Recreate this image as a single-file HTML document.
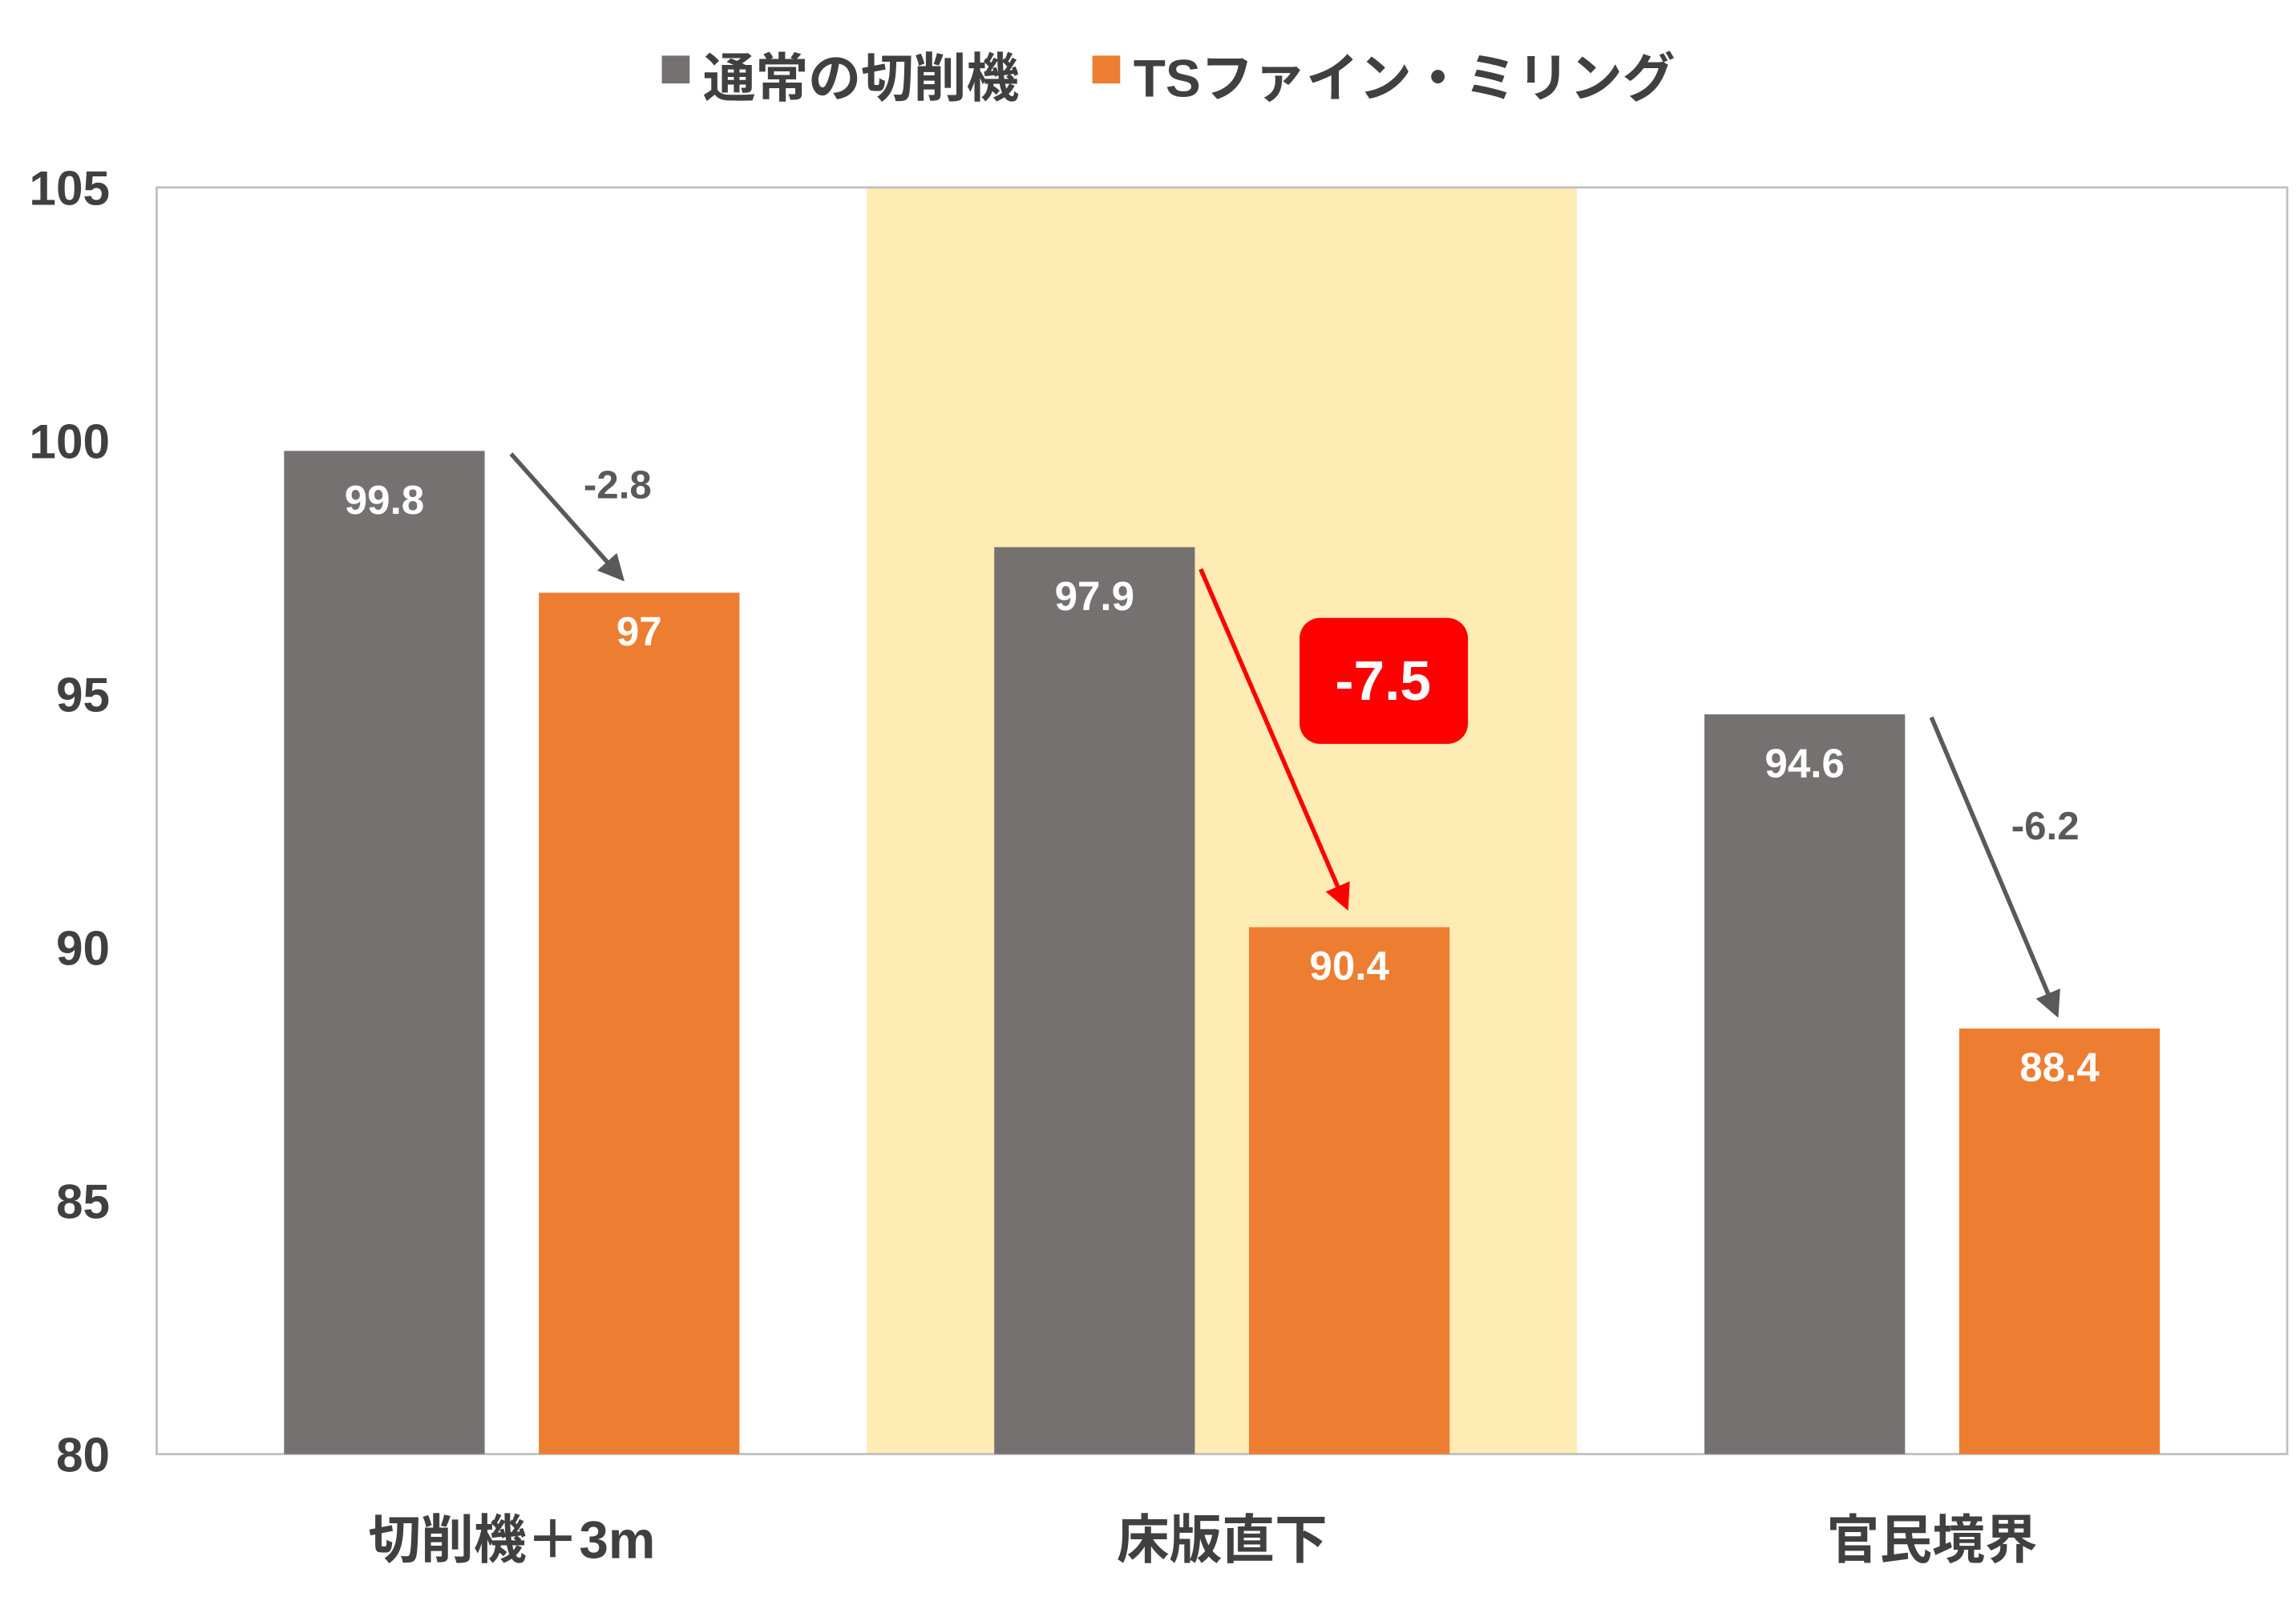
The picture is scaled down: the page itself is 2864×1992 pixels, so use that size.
<!DOCTYPE html>
<html><head><meta charset="utf-8"><style>
html,body{margin:0;padding:0;background:#fff;}
svg{display:block;}
text{font-family:"Liberation Sans","Noto Sans CJK JP",sans-serif;font-weight:bold;}
</style></head><body>
<svg id="chart" width="2864" height="1992" viewBox="0 0 1568 1090.6" preserveAspectRatio="none" xmlns="http://www.w3.org/2000/svg">
<g id="legend">
  <rect x="452" y="38" width="19" height="19" fill="#767171"/>
  <text x="480" y="66" font-size="36" fill="#404040">通常の切削機</text>
  <rect x="746" y="38" width="19" height="19" fill="#ED7D31"/>
  <text x="774" y="66" font-size="36" fill="#404040">TSファイン・ミリング</text>
</g>
<rect x="592" y="128" width="485" height="865" fill="#FFEBB4"/>
<rect x="107" y="128" width="1455" height="865" fill="none" stroke="#BFBFBF" stroke-width="1.5"/>
<g id="ticks"></g>
<g id="bars"></g>
<g id="arrows"></g>
</svg>
<script>
const categories = ["切削機＋3m", "床版直下", "官民境界"];
const normalValues = [99.8, 97.9, 94.6];
const tsValues = [97.0, 90.4, 88.4];
const diffLabels = ["-2.8", "-7.5", "-6.2"];
const tickValues = [80, 85, 90, 95, 100, 105];

const NS = "http://www.w3.org/2000/svg";
const L = 107, R = 1562, T = 128, B = 993, YMIN = 80, YMAX = 105;
const catW = (R - L) / categories.length;
const y = v => B - (v - YMIN) / (YMAX - YMIN) * (B - T);
const cx = i => L + catW * (i + 0.5);
const BW = 137, GAP = 37;
function mk(tag, attrs, parent){const e=document.createElementNS(NS,tag);for(const k in attrs)e.setAttribute(k,attrs[k]);parent.appendChild(e);return e;}

const ticksG = document.getElementById('ticks');
tickValues.forEach(v => {
  const t = mk('text', {x: 75, y: y(v) + 12, 'font-size': 33, fill: '#404040', 'text-anchor': 'end'}, ticksG);
  
  
  t.textContent = v;
});

const barsG = document.getElementById('bars');
const arrowsG = document.getElementById('arrows');
const defs = mk('defs', {}, document.getElementById('chart'));
[['ah-gray', '#595959'], ['ah-red', '#FF0000']].forEach(([id, c]) => {
  const m = mk('marker', {id: id, markerWidth: 6, markerHeight: 6, refX: 5, refY: 3, orient: 'auto', markerUnits: 'strokeWidth'}, defs);
  mk('path', {d: 'M0,0 L6,3 L0,6 z', fill: c}, m);
});

categories.forEach((c, i) => {
  const gx = cx(i) - GAP / 2 - BW, ox = cx(i) + GAP / 2;
  const g = mk('rect', {x: gx, y: y(normalValues[i]), width: BW, height: B - y(normalValues[i]), fill: '#767171'}, barsG);
  
  
  const o = mk('rect', {x: ox, y: y(tsValues[i]), width: BW, height: B - y(tsValues[i]), fill: '#ED7D31'}, barsG);
  
  
  const gl = mk('text', {x: gx + BW / 2, y: y(normalValues[i]) + 43, 'font-size': 28, fill: '#fff', 'text-anchor': 'middle'}, barsG);
  
  
  gl.textContent = normalValues[i];
  const ol = mk('text', {x: ox + BW / 2, y: y(tsValues[i]) + 36, 'font-size': 28, fill: '#fff', 'text-anchor': 'middle'}, barsG);
  
  
  ol.textContent = (tsValues[i] % 1 === 0) ? tsValues[i].toFixed(0) : tsValues[i];
  const cl = mk('text', {x: cx(i), y: 1064, 'font-size': 36, fill: '#404040', 'text-anchor': 'middle'}, barsG);
  
  
  cl.textContent = c;

  const red = i === 1;
  const x1 = gx + BW + (red ? 4 : 18), y1 = y(normalValues[i]) + (red ? 15 : 2);
  const x2 = ox + BW / 2 - (i === 0 ? 12 : 2), y2 = y(tsValues[i]) - (red ? 14 : 10);
  const a = mk('line', {x1: x1, y1: y1, x2: x2, y2: y2, stroke: red ? '#FF0000' : '#595959', 'stroke-width': 3, 'marker-end': red ? 'url(#ah-red)' : 'url(#ah-gray)'}, arrowsG);
  
  
  if (red) {
    const bx = mk('rect', {x: cx(i) + 53, y: 422, width: 115, height: 86, rx: 14, fill: '#FF0000'}, arrowsG);
    
    
    const bt = mk('text', {x: cx(i) + 110, y: 478, 'font-size': 38, fill: '#fff', 'text-anchor': 'middle'}, arrowsG);
    
    
    bt.textContent = diffLabels[i];
  } else {
    const dt = mk('text', {x: (x1 + x2) / 2 + 35, y: (y1 + y2) / 2 + (i === 0 ? -12 : -18), 'font-size': 27, fill: '#595959', 'text-anchor': 'middle'}, arrowsG);
    
    
    dt.textContent = diffLabels[i];
  }
});
</script>
</body></html>
